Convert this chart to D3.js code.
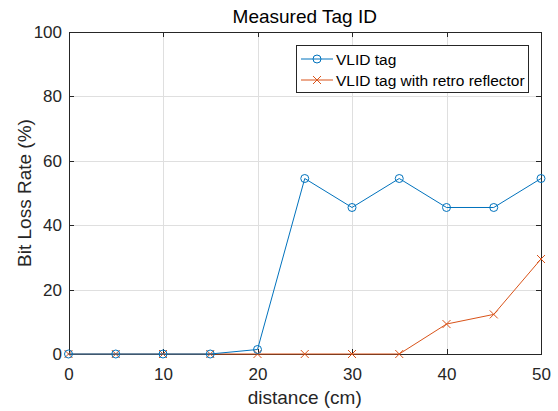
<!DOCTYPE html>
<html>
<head>
<meta charset="utf-8">
<style>
body { margin: 0; background: #fff; font-family: "Liberation Sans", Arial, sans-serif; }
.grid line { stroke: #dfdfdf; shape-rendering: crispEdges; }
.grid path { stroke-width: 0; }
.axis path, .axis line { stroke: #262626; shape-rendering: crispEdges; }
.axis text { fill: #262626; font-size: 17px; font-family: "Liberation Sans", Arial, sans-serif; }
</style>
</head>
<body>
<script src="https://cdn.jsdelivr.net/npm/d3@7"></script>
<script>
// data
var distance = [0, 5, 10, 15, 20, 25, 30, 35, 40, 45, 50];
var vlidTag = [0, 0, 0, 0, 1.4, 54.5, 45.5, 54.5, 45.5, 45.5, 54.5];
var vlidRetro = [0, 0, 0, 0, 0, 0, 0, 0, 9.3, 12.3, 29.5];
var xTicks = [0, 10, 20, 30, 40, 50];
var yTicks = [0, 20, 40, 60, 80, 100];
var seriesNames = ["VLID tag", "VLID tag with retro reflector"];

var W = 558, H = 411;
var margin = {top: 32, right: 17, bottom: 57, left: 68.5},
    width = W - margin.left - margin.right,
    height = H - margin.top - margin.bottom;

var blue = "#0072BD", orange = "#D95319";

var x = d3.scaleLinear().domain([0, 50]).range([0, width]);
var y = d3.scaleLinear().domain([0, 100]).range([height, 0]);

var svg = d3.select("body").append("svg")
    .attr("width", W).attr("height", H)
  .append("g")
    .attr("transform", "translate(" + margin.left + "," + margin.top + ")");

// gridlines
svg.append("g").attr("class", "grid")
    .attr("transform", "translate(0," + height + ")")
    .call(d3.axisBottom(x).tickValues(xTicks).tickSize(-height).tickFormat(""));
svg.append("g").attr("class", "grid")
    .call(d3.axisLeft(y).tickValues(yTicks).tickSize(-width).tickFormat(""));

// box axes (ticks inward)
svg.append("g").attr("class", "axis")
    .attr("transform", "translate(0," + height + ")")
    .call(d3.axisBottom(x).tickValues(xTicks).tickSizeInner(-5).tickSizeOuter(0).tickPadding(14));
svg.append("g").attr("class", "axis")
    .call(d3.axisLeft(y).tickValues(yTicks).tickSizeInner(-5).tickSizeOuter(0).tickPadding(6.5));
svg.append("g").attr("class", "axis")
    .call(d3.axisTop(x).tickValues(xTicks).tickSizeInner(-5).tickSizeOuter(0).tickFormat(""));
svg.append("g").attr("class", "axis")
    .attr("transform", "translate(" + width + ",0)")
    .call(d3.axisRight(y).tickValues(yTicks).tickSizeInner(-5).tickSizeOuter(0).tickFormat(""));

var line = d3.line()
    .x(function(d, i) { return x(distance[i]); })
    .y(function(d) { return y(d); });

// retro reflector series
svg.append("path").datum(vlidRetro)
    .attr("fill", "none").attr("stroke", orange).attr("stroke-width", 1)
    .attr("d", line);
var xr = 4;
svg.selectAll(".xm").data(vlidRetro).enter().append("path")
    .attr("class", "xm")
    .attr("fill", "none").attr("stroke", orange).attr("stroke-width", 1)
    .attr("d", function(d, i) {
        var cx = x(distance[i]), cy = y(d);
        return "M" + (cx - xr) + "," + (cy - xr) + "L" + (cx + xr) + "," + (cy + xr) +
               "M" + (cx - xr) + "," + (cy + xr) + "L" + (cx + xr) + "," + (cy - xr);
    });

// VLID tag series
svg.append("path").datum(vlidTag)
    .attr("fill", "none").attr("stroke", blue).attr("stroke-width", 1)
    .attr("d", line);
svg.selectAll(".om").data(vlidTag).enter().append("circle")
    .attr("class", "om")
    .attr("cx", function(d, i) { return x(distance[i]); })
    .attr("cy", function(d) { return y(d); })
    .attr("r", 4)
    .attr("fill", "none").attr("stroke", blue).attr("stroke-width", 1);

// title and labels
svg.append("text")
    .attr("x", width / 2).attr("y", 23 - margin.top)
    .attr("text-anchor", "middle")
    .style("font-size", "19px").style("fill", "#000")
    .text("Measured Tag ID");

svg.append("text")
    .attr("x", width / 2).attr("y", 404 - margin.top)
    .attr("text-anchor", "middle")
    .style("font-size", "19px").style("fill", "#262626")
    .text("distance (cm)");

svg.append("text")
    .attr("transform", "translate(" + (31 - margin.left) + "," + (height / 2) + ") rotate(-90)")
    .attr("text-anchor", "middle")
    .style("font-size", "19px").style("fill", "#262626")
    .text("Bit Loss Rate (%)");

// legend
var lg = svg.append("g").attr("transform", "translate(" + (296 - margin.left) + "," + (45 - margin.top) + ")");
lg.append("rect")
    .attr("width", 232).attr("height", 47)
    .attr("fill", "#fff").attr("stroke", "#262626").attr("stroke-width", 1)
    .attr("shape-rendering", "crispEdges");
var colors = [blue, orange];
seriesNames.forEach(function(name, i) {
    var ly = 14 + i * 21;
    lg.append("line")
        .attr("x1", 5).attr("x2", 37).attr("y1", ly).attr("y2", ly)
        .attr("stroke", colors[i]).attr("stroke-width", 1);
    if (i === 0) {
        lg.append("circle").attr("cx", 21).attr("cy", ly).attr("r", 4)
            .attr("fill", "none").attr("stroke", colors[i]);
    } else {
        lg.append("path")
            .attr("d", "M17," + (ly - 4) + "L25," + (ly + 4) + "M17," + (ly + 4) + "L25," + (ly - 4))
            .attr("fill", "none").attr("stroke", colors[i]);
    }
    lg.append("text")
        .attr("x", 40).attr("y", ly + 5.5)
        .style("font-size", "15.5px").style("fill", "#000")
        .text(name);
});
</script>
</body>
</html>
